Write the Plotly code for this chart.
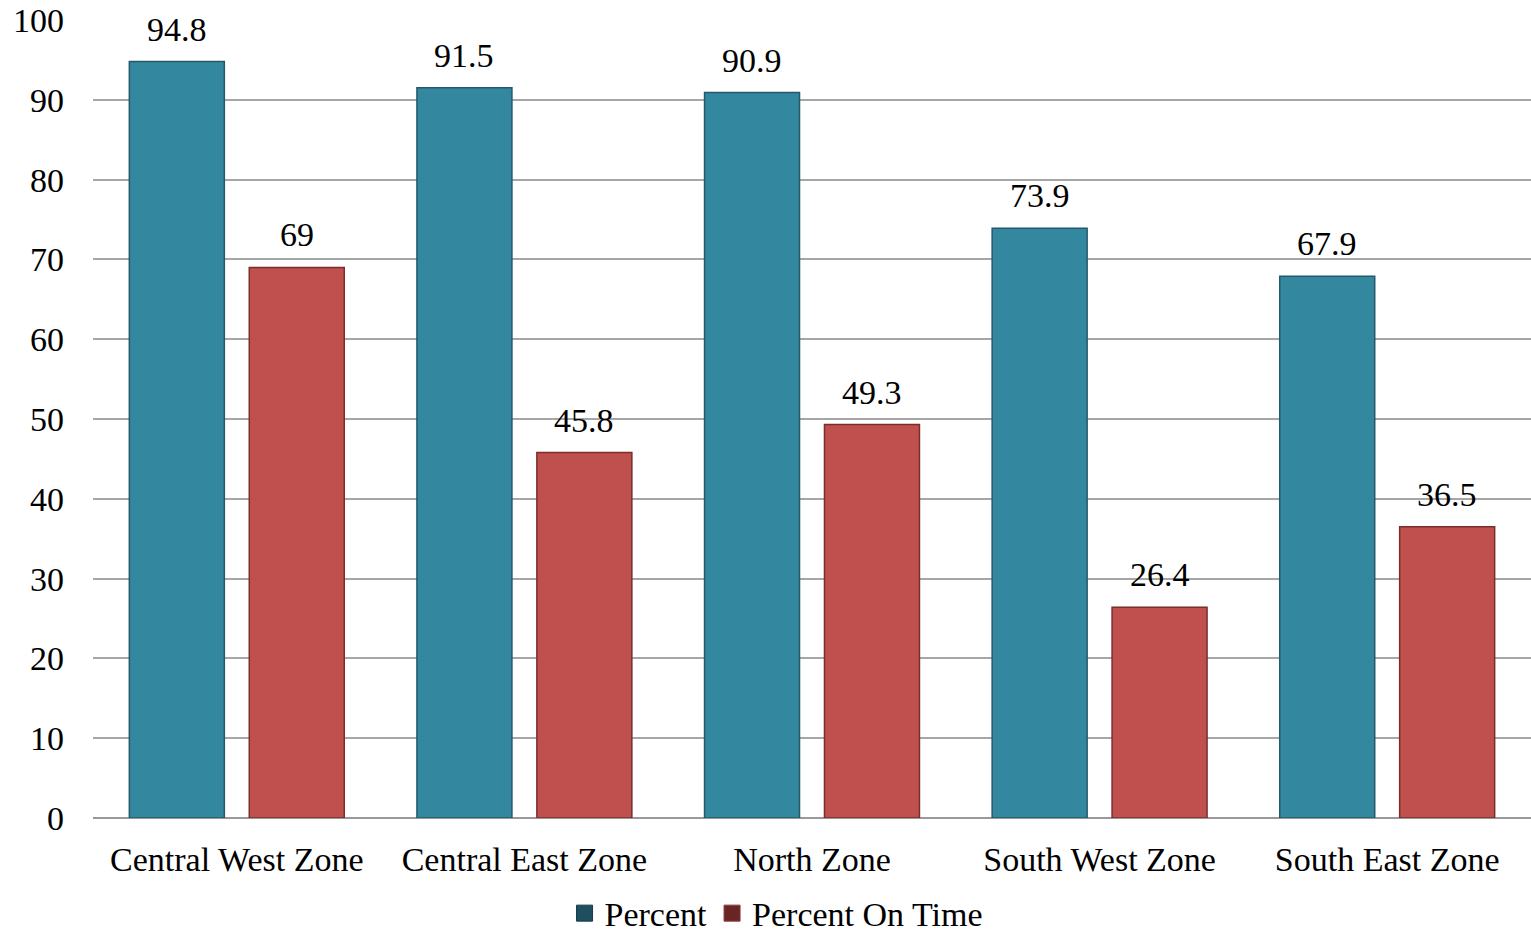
import plotly.graph_objects as go

zones = ["Central West Zone", "Central East Zone", "North Zone", "South West Zone", "South East Zone"]
percent = [94.8, 91.5, 90.9, 73.9, 67.9]
percent_on_time = [69, 45.8, 49.3, 26.4, 36.5]
percent_text = ["94.8", "91.5", "90.9", "73.9", "67.9"]
on_time_text = ["69", "45.8", "49.3", "26.4", "36.5"]

FONT = "Liberation Serif, Times New Roman, serif"
FS = 34
BLUE = "#33889f"
RED = "#c0504d"
BAR_OFFSET = 60  # px between category centre and each bar centre

fig = go.Figure()
fig.add_trace(go.Bar(
    x=zones, y=percent, name="Percent", showlegend=False,
    marker=dict(color=BLUE, line=dict(color="#24596a", width=1.5)),
))
fig.add_trace(go.Bar(
    x=zones, y=percent_on_time, name="Percent On Time", showlegend=False,
    marker=dict(color=RED, line=dict(color="#7a2e2c", width=1.5)),
))

# value labels above each bar
for vals, texts, shift in ((percent, percent_text, -BAR_OFFSET),
                           (percent_on_time, on_time_text, BAR_OFFSET)):
    for zone, v, t in zip(zones, vals, texts):
        fig.add_annotation(x=zone, y=v, text=t, showarrow=False,
                           xshift=shift, yanchor="bottom", yshift=12,
                           font=dict(family=FONT, size=FS, color="#000"))

# legend entries with the darker swatch tones
fig.add_trace(go.Scatter(x=[None], y=[None], mode="markers", name="Percent",
                         marker=dict(symbol="square", size=18, color="#1f4e5e",
                                     line=dict(color="#16394a", width=1))))
fig.add_trace(go.Scatter(x=[None], y=[None], mode="markers", name="Percent On Time",
                         marker=dict(symbol="square", size=18, color="#6a2424",
                                     line=dict(color="#8a3a3a", width=1))))

fig.update_layout(
    width=1531, height=936,
    margin=dict(l=93, r=0, t=20, b=118),
    plot_bgcolor="white", paper_bgcolor="white",
    barmode="group", bargap=0.166, bargroupgap=0.208,
    font=dict(family=FONT, size=FS, color="#000"),
    legend=dict(orientation="h", x=0.475, xanchor="center",
                yref="container", y=0.024, yanchor="middle",
                font=dict(family=FONT, size=FS), itemwidth=30, tracegroupgap=0),
    xaxis=dict(showgrid=False, showline=False, ticks="", tickfont=dict(size=FS),
               ticklabelstandoff=18),
    yaxis=dict(range=[0, 100], dtick=10, showgrid=True, gridcolor="#a6a6a6", gridwidth=2,
               zeroline=True, zerolinecolor="#999999", zerolinewidth=2,
               showline=False, ticks="", tickfont=dict(size=FS), ticklabelstandoff=28),
)

fig.write_html("out.html")
